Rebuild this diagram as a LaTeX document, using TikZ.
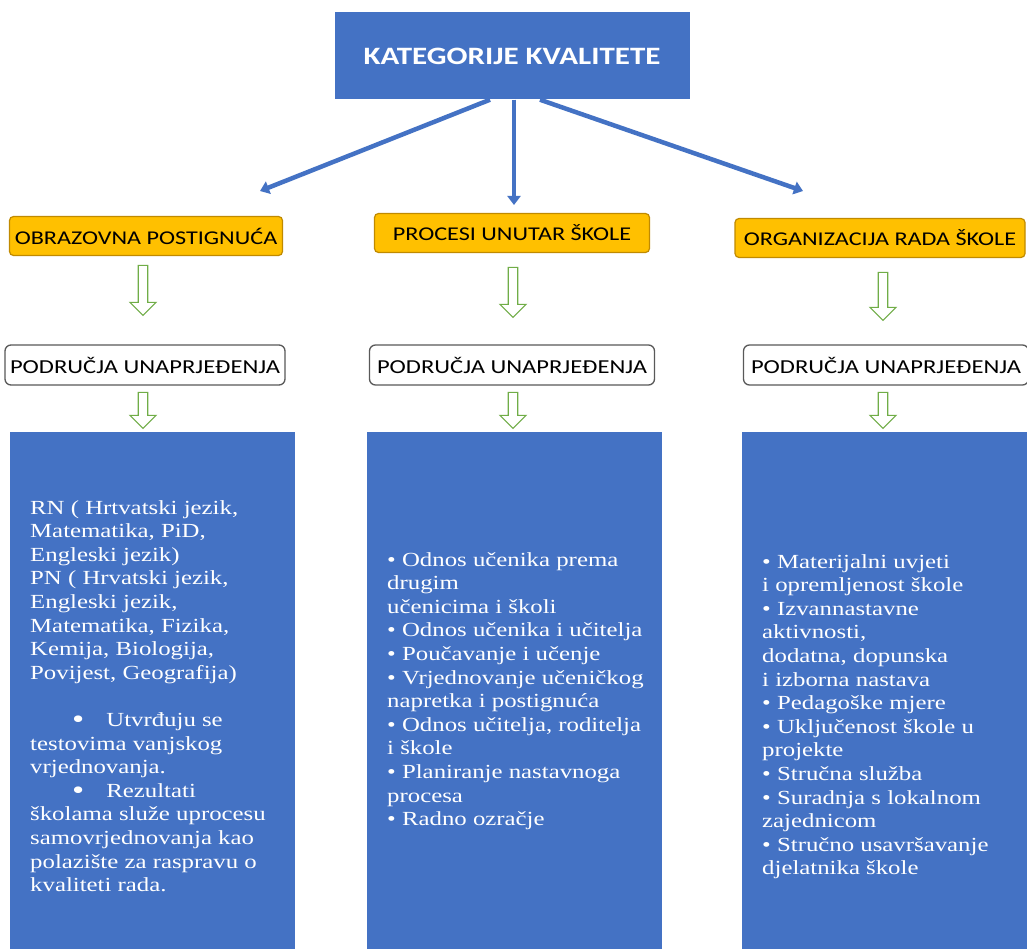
\documentclass[tikz,border=0pt]{standalone}
\usepackage{fontspec}
\setmainfont{Liberation Serif}[FakeStretch=1.24]
\newfontfamily\calibri{Carlito}[FakeStretch=1.24]
\usetikzlibrary{arrows.meta,shapes.arrows}
\definecolor{katblue}{HTML}{4472C4}
\definecolor{katgold}{HTML}{FFC000}
\definecolor{katgoldline}{HTML}{C08A00}
\definecolor{katgreen}{HTML}{70AD47}
\newcommand{\bigdot}{\raisebox{-2.5pt}{\fontsize{28}{23.6}\selectfont\textbullet}}

\begin{document}
\begin{tikzpicture}[x=1pt,y=-1pt,
  title/.style={fill=katblue, text=white, minimum width=355pt, minimum height=87pt,
    font=\calibri\fontsize{25}{30}\selectfont\bfseries},
  category/.style={fill=katgold, draw=katgoldline, line width=1.2pt, rounded corners=4pt,
    minimum height=39pt, font=\calibri\fontsize{19.5}{24}\selectfont},
  area/.style={fill=white, draw=black!65, line width=1.3pt, rounded corners=6pt,
    minimum height=40pt, font=\calibri\fontsize{19.8}{24}\selectfont},
  panel/.style={fill=katblue, draw=none},
  paneltext/.style={anchor=north west, align=left, inner sep=0pt, text=white,
    font=\fontsize{20}{23.6}\selectfont},
  hollow/.style={single arrow, draw=katgreen, fill=white, line width=1.2pt, rotate=-90,
    minimum width=26pt, inner sep=4pt, single arrow head extend=8pt},
  kat/.style={draw=katblue, line width=4.5pt, -{Triangle[length=9pt,width=13pt]}},
]
\useasboundingbox (0,0) rectangle (1027,949);
\fill[white] (0,0) rectangle (1027,949);

% top node
\node[title] (kat) at (512,56) {KATEGORIJE KVALITETE};

% three categories
\node[category, minimum width=273pt] (obr) at (146,236) {OBRAZOVNA POSTIGNUĆA};
\node[category, minimum width=275pt] (pro) at (512,233) {PROCESI UNUTAR ŠKOLE};
\node[category, minimum width=290pt] (org) at (880,238) {ORGANIZACIJA RADA ŠKOLE};

% blue arrows
\coordinate (endL) at (260,191);
\coordinate (endC) at (514,205);
\coordinate (endR) at (803,191);
\draw[kat] ([xshift=-22pt]kat.south) -- (endL);
\draw[kat] ([xshift=2pt]kat.south) -- (endC);
\draw[kat] ([xshift=28pt]kat.south) -- (endR);

% improvement areas
\node[area, minimum width=280pt] (podL) at (145,365) {PODRUČJA UNAPRJEĐENJA};
\node[area, minimum width=285pt] (podC) at (512,365) {PODRUČJA UNAPRJEĐENJA};
\node[area, minimum width=285pt] (podR) at (886,365) {PODRUČJA UNAPRJEĐENJA};

% hollow green arrows
\node[hollow, minimum height=50pt] (hL1) at (143,288) {};
\node[hollow, minimum height=50pt] (hC1) at (513,290) {};
\node[hollow, minimum height=48pt] (hR1) at (883,294) {};
\node[hollow, minimum height=36pt] (hL2) at (143,408) {};
\node[hollow, minimum height=36pt] (hC2) at (513,408) {};
\node[hollow, minimum height=36pt] (hR2) at (883,408) {};

% blue panels
\fill[panel] (10,432) rectangle (295,949);
\fill[panel] (367,432) rectangle (662,949);
\fill[panel] (742,432) rectangle (1027,949);

\node[paneltext] (txtL) at (30,500) {RN ( Hrtvatski jezik,\\
Matematika, PiD,\\
Engleski jezik)\\
PN ( Hrvatski jezik,\\
Engleski jezik,\\
Matematika, Fizika,\\
Kemija, Biologija,\\
Povijest, Geografija)\\[23.6pt]
\hspace*{42pt}\bigdot\hspace{22pt}Utvrđuju se\\
testovima vanjskog\\
vrjednovanja.\\
\hspace*{42pt}\bigdot\hspace{22pt}Rezultati\\
školama služe uprocesu\\
samovrjednovanja kao\\
polazište za raspravu o\\
kvaliteti rada.};

\node[paneltext] (txtC) at (387,552) {• Odnos učenika prema\\
drugim\\
učenicima i školi\\
• Odnos učenika i učitelja\\
• Poučavanje i učenje\\
• Vrjednovanje učeničkog\\
napretka i postignuća\\
• Odnos učitelja, roditelja\\
i škole\\
• Planiranje nastavnoga\\
procesa\\
• Radno ozračje};

\node[paneltext] (txtR) at (762,554) {• Materijalni uvjeti\\
i opremljenost škole\\
• Izvannastavne\\
aktivnosti,\\
dodatna, dopunska\\
i izborna nastava\\
• Pedagoške mjere\\
• Uključenost škole u\\
projekte\\
• Stručna služba\\
• Suradnja s lokalnom\\
zajednicom\\
• Stručno usavršavanje\\
djelatnika škole};
\end{tikzpicture}
\end{document}
